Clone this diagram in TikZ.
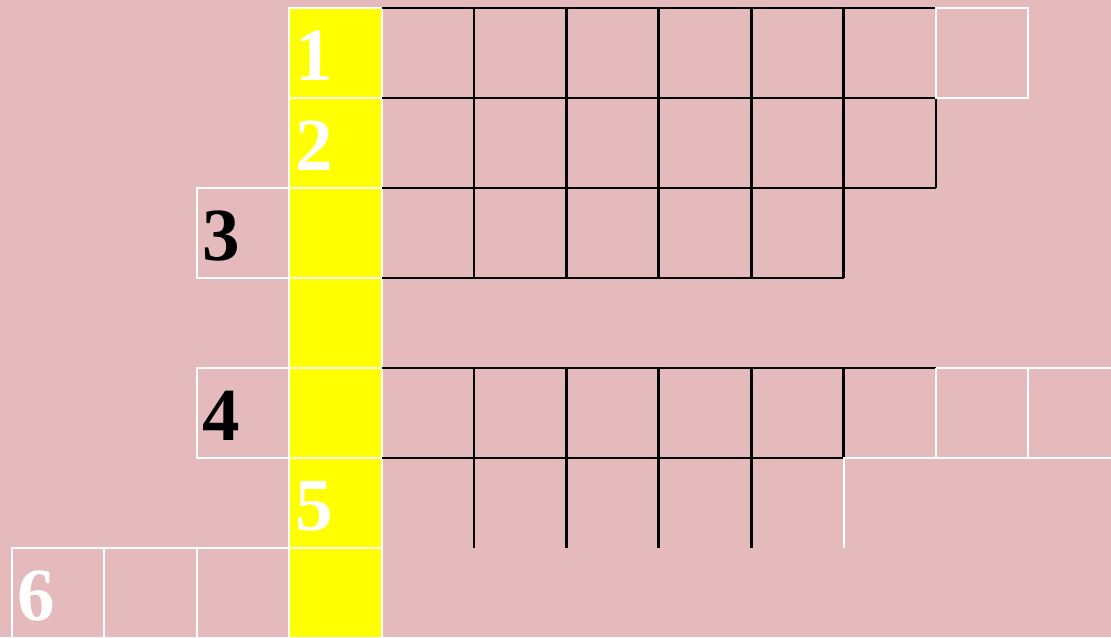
\documentclass[tikz,border=0pt]{standalone}
\usepackage{fontspec}
\setmainfont{Liberation Serif}
\usepackage{tikz}
\usetikzlibrary{positioning}
\definecolor{cwpink}{RGB}{228, 186, 188}
\definecolor{cwyellow}{RGB}{255, 255, 0}

\begin{document}
\begin{tikzpicture}[
  x=92.4pt, y=-90pt,
  every node/.style={font=\fontsize{75}{75}\selectfont\bfseries, inner sep=0pt, anchor=base west},
  wnum/.style={text=white},
  bnum/.style={text=black},
  wline/.style={draw=white, line width=2pt},
  bline/.style={draw=black, line width=2.8pt},
  ycell/.style={fill=cwyellow, draw=white, line width=2pt}
]
  \useasboundingbox (-0.13,-0.089) rectangle (11.894,6.989);
  \clip (-0.13,-0.089) rectangle (11.894,6.989);
  \fill[cwpink] (-0.13,-0.089) rectangle (11.894,6.989);

  % yellow key column
  \foreach \r in {0,...,6}
    \filldraw[ycell] (3,\r) rectangle (4,\r+1);

  % black answer grid
  \draw[bline] (4,0) -- (10,0) (4,1) -- (10,1) (4,2) -- (10,2) (10,1) -- (10,2);
  \foreach \c in {5,...,9}
    \draw[bline] (\c,0) -- (\c,3);
  \draw[bline] (4,3) -- (9,3);
  \draw[bline] (4,4) -- (10,4) (4,5) -- (9,5);
  \foreach \c in {5,...,9}
    \draw[bline] (\c,4) -- (\c,5);
  \foreach \c in {5,...,8}
    \draw[bline] (\c,5) -- (\c,6);

  % white clue cells
  \draw[wline] (10,0) rectangle (11,1);
  \draw[wline] (2,2) rectangle (3,3);
  \draw[wline] (2,4) rectangle (3,5);
  \draw[wline] (9,6) -- (9,5) -- (12.2,5) (10,4) -- (10,5) (11,4) -- (11,5) (10,4) -- (12.2,4);
  \draw[wline] (0,7.2) -- (0,6) -- (3,6) (1,6) -- (1,7.2) (2,6) -- (2,7.2);

  % clue numbers
  \node[wnum] (n1) at (3.07,0.8) {1};
  \node[wnum] (n2) at (3.07,1.8) {2};
  \node[bnum] (n3) at (2.06,2.8) {3};
  \node[bnum] (n4) at (2.06,4.8) {4};
  \node[wnum] (n5) at (3.07,5.8) {5};
  \node[wnum] (n6) at (0.06,6.8) {6};
\end{tikzpicture}
\end{document}
